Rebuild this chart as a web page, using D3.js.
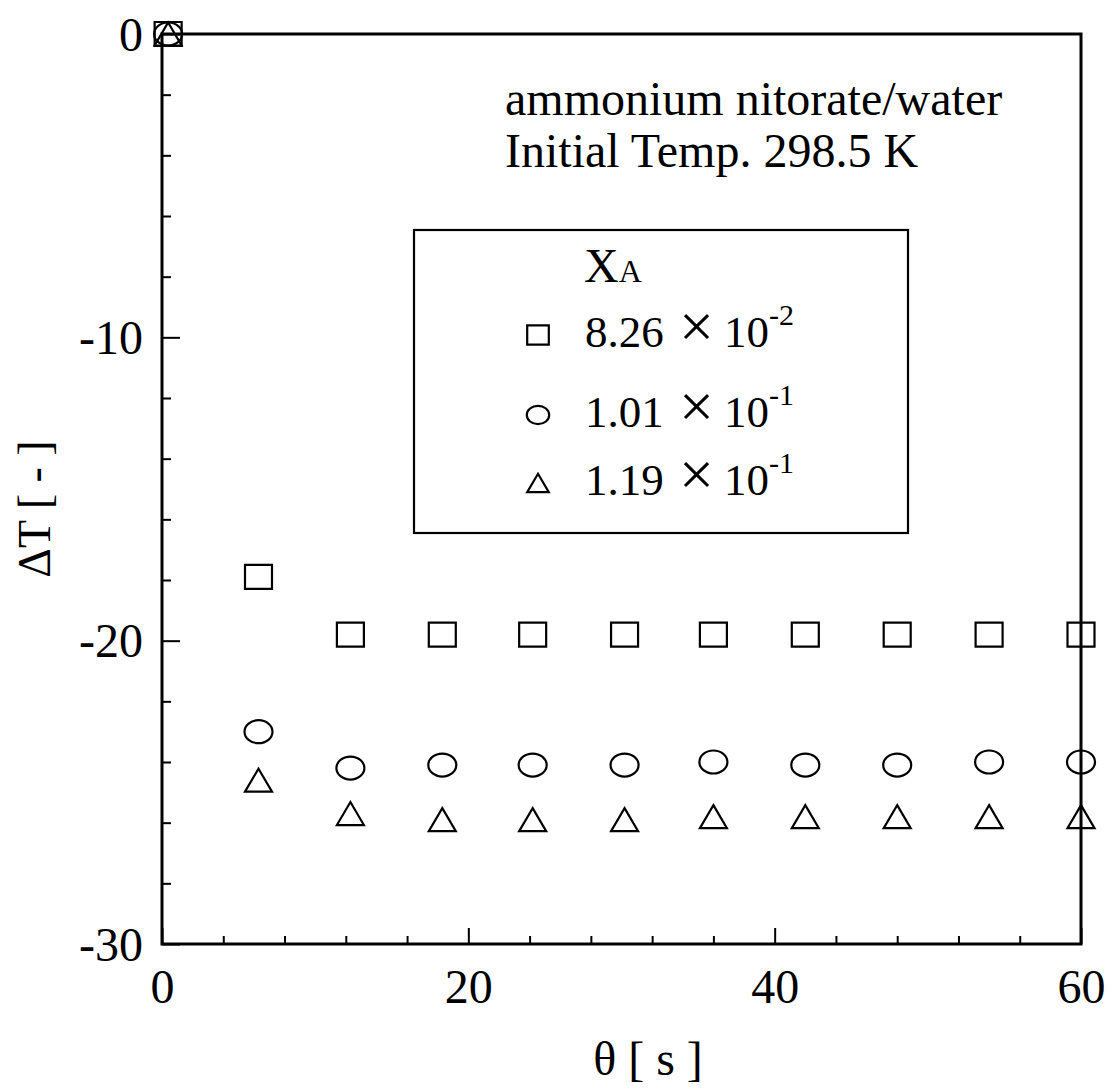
<!DOCTYPE html>
<html>
<head>
<meta charset="utf-8">
<script src="https://cdn.jsdelivr.net/npm/d3@7"></script>
<style>
  html, body { margin: 0; padding: 0; background: #fff; }
  svg { display: block; }
  text { font-family: "Liberation Serif", "DejaVu Serif", serif; fill: #000; }
</style>
</head>
<body>
<svg id="chart" width="1109" height="1090"></svg>
<script>
const times = [0.4, 6.3, 12.3, 18.3, 24.2, 30.2, 36.0, 42.0, 48.0, 54.0, 60.0];
const squareVals = [0, -17.9, -19.8, -19.8, -19.8, -19.8, -19.8, -19.8, -19.8, -19.8, -19.8];
const circleVals = [0, -23.0, -24.2, -24.1, -24.1, -24.1, -24.0, -24.1, -24.1, -24.0, -24.0];
const triangleVals = [0, -24.6, -25.7, -25.9, -25.9, -25.9, -25.8, -25.8, -25.8, -25.8, -25.8];

const legendLabels = [
  { mant: '8.26', exp: '-2' },
  { mant: '1.01', exp: '-1' },
  { mant: '1.19', exp: '-1' },
];
const shapes = ['square', 'circle', 'triangle'];
const seriesVals = [squareVals, circleVals, triangleVals];

const xMajor = [0, 20, 40, 60];
const xMinor = [4, 8, 12, 16, 24, 28, 32, 36, 44, 48, 52, 56];
const yMajor = [0, -10, -20, -30];
const yMinor = d3.range(-28, 0, 2).filter((v) => v % 10 !== 0);

const serif = '"Liberation Serif", "DejaVu Serif", serif';
const svg = d3.select('#chart');
const plot = { left: 162, right: 1081, top: 34, bottom: 944 };

const x = d3.scaleLinear().domain([0, 60]).range([plot.left, plot.right]);
const y = d3.scaleLinear().domain([-30, 0]).range([plot.bottom, plot.top]);

// marker paths, centered on the data point
function markerPath(shape, s) {
  const w = 13.5 * s, h = 12 * s;
  if (shape === 'square') return `M${-w},${-h}H${w}V${h}H${-w}Z`;
  if (shape === 'triangle') return `M0,${-11.5 * s}L${w},${11.5 * s}L${-w},${11.5 * s}Z`;
  const rx = 14 * s, ry = 11.5 * s;
  return `M${-rx},0A${rx},${ry} 0 1,0 ${rx},0A${rx},${ry} 0 1,0 ${-rx},0Z`;
}

// axes (ticks point inward)
svg.append('g').attr('transform', `translate(0,${plot.bottom})`)
  .call(d3.axisBottom(x).tickValues(xMajor).tickSizeInner(-16).tickSizeOuter(0)
    .tickPadding(25).tickFormat((d) => String(d)));
svg.append('g').attr('transform', `translate(0,${plot.bottom})`)
  .call(d3.axisBottom(x).tickValues(xMinor).tickSizeInner(-8).tickSizeOuter(0).tickFormat(''));

const gy = svg.append('g').attr('transform', `translate(${plot.left},0)`)
  .call(d3.axisLeft(y).tickValues(yMajor).tickSizeInner(-18).tickSizeOuter(0)
    .tickPadding(19).tickFormat((d) => String(d)));
svg.append('g').attr('transform', `translate(${plot.left},0)`)
  .call(d3.axisLeft(y).tickValues(yMinor).tickSizeInner(-9).tickSizeOuter(0).tickFormat(''));

svg.selectAll('.domain').remove();
svg.selectAll('g').attr('font-family', serif).attr('font-size', 48);
svg.selectAll('.tick line').attr('stroke', '#000').attr('stroke-width', 2);
svg.selectAll('.tick text')
  .attr('font-family', serif)
  .style('font-family', serif)
  .style('font-size', '48px')
  .attr('fill', '#000');
gy.selectAll('.tick text').attr('dy', '0.34em');

// frame
svg.append('rect')
  .attr('x', plot.left).attr('y', plot.top)
  .attr('width', plot.right - plot.left).attr('height', plot.bottom - plot.top)
  .attr('fill', 'none').attr('stroke', '#000').attr('stroke-width', 3);

// data markers
seriesVals.forEach((vals, i) => {
  svg.append('g').selectAll('path')
    .data(times.map((t, j) => ({ t, v: vals[j] })))
    .join('path')
    .attr('transform', (d) => `translate(${x(d.t)},${y(d.v)})`)
    .attr('d', markerPath(shapes[i], 1))
    .attr('fill', 'none')
    .attr('stroke', '#000')
    .attr('stroke-width', 2.2);
});

// axis titles
svg.append('text')
  .attr('x', 648).attr('y', 1075)
  .attr('text-anchor', 'middle')
  .style('font-size', '48px')
  .text('θ [ s ]');

svg.append('text')
  .attr('transform', 'translate(50,509) rotate(-90)')
  .attr('text-anchor', 'middle')
  .style('font-size', '46px')
  .text('ΔT [ - ]');

// annotation
const note = svg.append('text').style('font-size', '48px');
note.append('tspan').attr('x', 505).attr('y', 115).text('ammonium nitorate/water');
note.append('tspan').attr('x', 505).attr('y', 167).text('Initial Temp. 298.5 K');

// legend
const lg = svg.append('g');
lg.append('rect')
  .attr('x', 414).attr('y', 230).attr('width', 494).attr('height', 303)
  .attr('fill', '#fff').attr('stroke', '#000').attr('stroke-width', 2.2);

const xa = lg.append('text').attr('x', 584).attr('y', 282).style('font-size', '48px');
xa.append('tspan').text('X');
xa.append('tspan').style('font-size', '32px').text('A');

const rowY = [347, 427, 495];
legendLabels.forEach((lab, i) => {
  lg.append('path')
    .attr('transform', `translate(538,${rowY[i] - 12})`)
    .attr('d', markerPath(shapes[i], 0.8))
    .attr('fill', 'none').attr('stroke', '#000').attr('stroke-width', 2.2);
  const t = lg.append('text').attr('x', 585).attr('y', rowY[i]).style('font-size', '45px');
  t.append('tspan').text(lab.mant);
  t.append('tspan').attr('x', 679).style('font-size', '62px').text('×');
  t.append('tspan').attr('x', 724).text('10');
  t.append('tspan').attr('dy', -22).style('font-size', '30px').text(lab.exp);
});
</script>
</body>
</html>
